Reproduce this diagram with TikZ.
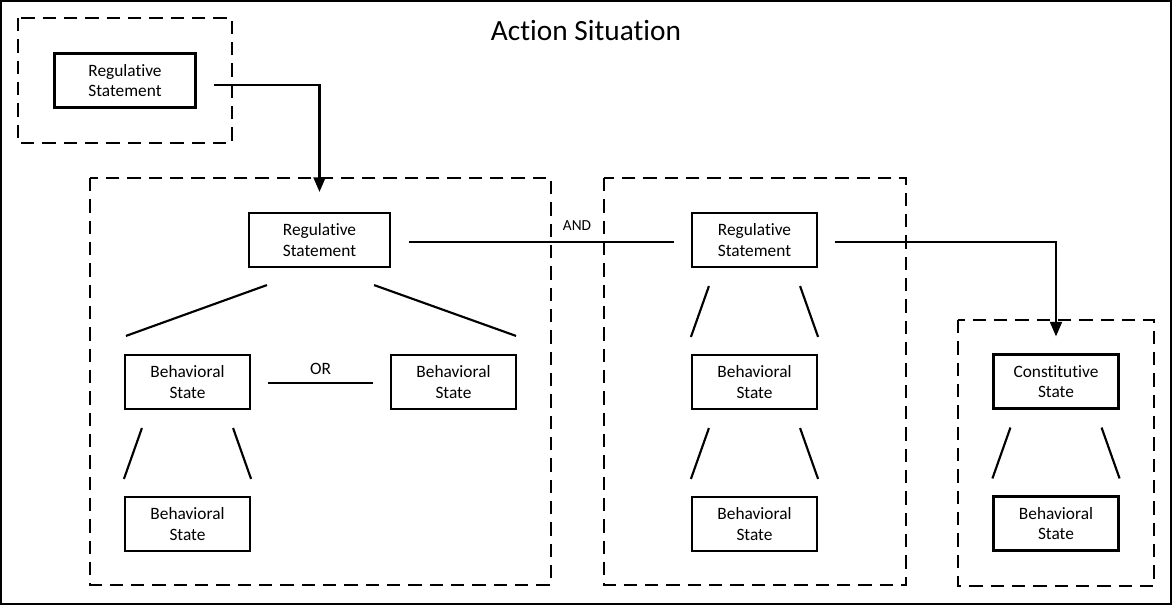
\documentclass[tikz,border=0pt]{standalone}
\usepackage{fontspec}
\setmainfont{Carlito}[Ligatures=NoCommon]
\usetikzlibrary{arrows.meta}
\tikzset{
  state/.style={draw,line width=1.6pt,minimum width=93.75pt,minimum height=40.5pt,
    inner sep=0pt,align=center,font=\fontsize{13}{15.2}\selectfont},
  wide/.style={state,minimum width=105.75pt},
  group/.style={draw,line width=1.6pt,dash pattern=on 10pt off 6pt},
  link/.style={line width=1.6pt},
  tip/.style={-{Triangle[length=11pt,width=9pt]}},
}
\begin{document}
\begin{tikzpicture}[x=0.75pt,y=-0.75pt]
\useasboundingbox (0,0) rectangle (1172,605);
\draw[line width=1.6pt] (1,1) rectangle (1171,604); %外框
\node[font=\fontsize{22}{26}\selectfont] (title) at (586,31) {Action Situation};
% dashed groups
\draw[group] (18,18) rectangle (232,143);
\draw[group] (90,178) rectangle (551,585);
\draw[group] (604,178) rectangle (906,585);
\draw[group] (958,320) rectangle (1154,586);
% boxes
\node[wide] (reg1) at (125,80.5) {Regulative\\Statement};
\node[wide] (reg2) at (319.5,240) {Regulative\\Statement};
\node[state] (reg3) at (754.5,240) {Regulative\\Statement};
\node[state] (bs1) at (187.5,382) {Behavioral\\State};
\node[state] (bs2) at (453.5,382) {Behavioral\\State};
\node[state] (bs3) at (187.5,524) {Behavioral\\State};
\node[state] (bs4) at (754.5,382) {Behavioral\\State};
\node[state] (bs5) at (754.5,524) {Behavioral\\State};
\node[state] (cons) at (1056,381.5) {Constitutive\\State};
\node[state] (bs6) at (1056,523.5) {Behavioral\\State};
% arrows
\draw[link,tip] ([shift={(17,4.5)}]reg1.east) -| ([shift={(0,-20)}]reg2.north);
\draw[link,tip] ([shift={(17,2)}]reg3.east) -| ([shift={(0,-17)}]cons.north);
% AND / OR
\draw[link] ([shift={(18,2)}]reg2.east) -- ([shift={(-17,2)}]reg3.west);
\node[font=\fontsize{11.5}{13}\selectfont] (and) at (577,226) {AND};
\draw[link] ([shift={(17,1)}]bs1.east) -- ([shift={(-17,1)}]bs2.west)
  node[midway,above=2pt,font=\fontsize{13}{15}\selectfont] (or) {OR};
% forks
\draw[link] ([shift={(19,17)}]reg2.south west) -- ([shift={(2,-18)}]bs1.north west);
\draw[link] ([shift={(-17,17)}]reg2.south east) -- ([shift={(-1,-18)}]bs2.north east);
\foreach \a/\b in {reg3/bs4,bs1/bs3,bs4/bs5,cons/bs6}
\draw[link] ([shift={(18,18)}]\a.south west) -- ([shift={(0,-17)}]\b.north west)
  ([shift={(-18,18)}]\a.south east) -- ([shift={(0,-17)}]\b.north east);
\end{tikzpicture}
\end{document}
